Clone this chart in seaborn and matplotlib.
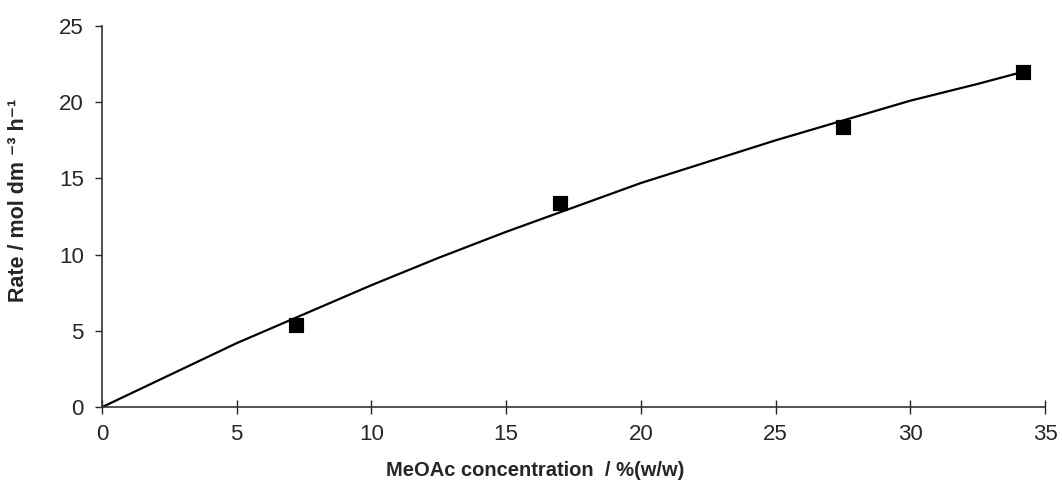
import pandas as pd
import matplotlib
matplotlib.use("Agg")
import matplotlib.pyplot as plt
import seaborn as sns

# measured rates
conc = [7.2, 17.0, 27.5, 34.2]
rate = [5.4, 13.4, 18.4, 22.0]

# fitted curve
fit_conc = [0, 2.5, 5, 7.5, 10, 12.5, 15, 17.5, 20, 22.5, 25, 27.5, 30, 32.5, 34.2]
fit_rate = [0, 2.1, 4.2, 6.1, 8.0, 9.8, 11.5, 13.1, 14.7, 16.1, 17.5, 18.8, 20.1, 21.2, 22.0]

x_ticks = [0, 5, 10, 15, 20, 25, 30, 35]
y_ticks = [0, 5, 10, 15, 20, 25]

sns.set_theme(style="ticks")
plt.rcParams['font.family'] = ['Liberation Sans', 'DejaVu Sans']

fig = plt.figure(figsize=(10.62, 4.9), dpi=100)
ax = fig.add_axes([0.096, 0.169, 0.888, 0.778])

df_fit = pd.DataFrame({'x': fit_conc, 'y': fit_rate})
df_pts = pd.DataFrame({'x': conc, 'y': rate})

sns.lineplot(data=df_fit, x='x', y='y', ax=ax, color='black', linewidth=1.6)
sns.scatterplot(data=df_pts, x='x', y='y', ax=ax, marker='s', s=110,
                color='black', edgecolor='black', zorder=3)

ax.set_xlim(0, 35)
ax.set_ylim(0, 25)
ax.set_xticks(x_ticks)
ax.set_yticks(y_ticks)
ax.tick_params(axis='x', direction='inout', length=10, width=1, labelsize=16, pad=7)
ax.tick_params(axis='y', direction='out', length=5, width=1, labelsize=16, pad=8)
for s in ['top', 'right']:
    ax.spines[s].set_visible(False)
for s in ['left', 'bottom']:
    ax.spines[s].set_color('#333333')
    ax.spines[s].set_linewidth(1.2)

ax.set_xlabel('MeOAc concentration  / %(w/w)', fontsize=14.5, fontweight='bold')
ax.xaxis.set_label_coords(0.459, -0.14)
ax.set_ylabel('Rate / mol dm \u207b\u00b3 h\u207b\u00b9', fontsize=15.5, fontweight='bold')
ax.yaxis.set_label_coords(-0.077, 0.543)

fig.savefig('out.png', dpi=100)
